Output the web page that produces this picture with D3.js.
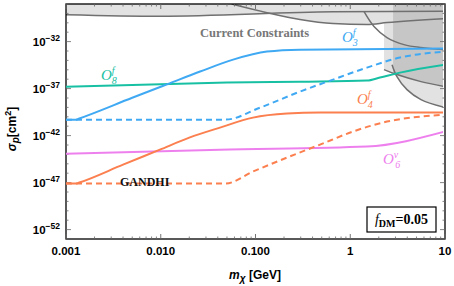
<!DOCTYPE html>
<html>
<head>
<meta charset="utf-8">
<script src="https://cdn.jsdelivr.net/npm/d3@7"></script>
<style>
  body { margin: 0; background: #fff; }
  svg { display: block; }
</style>
</head>
<body>
<svg id="chart" width="454" height="286"></svg>
<script>
// axis ticks
const massTicks = [0.001, 0.01, 0.1, 1, 10];
const massTickLabels = ['0.001', '0.010', '0.100', '1', '10'];
const sigmaTickExps = [-52, -47, -42, -37, -32];

// O3f (solid / dashed)
const o3SolidMass = [0.001, 0.00128, 0.00136, 0.005, 0.012, 0.026, 0.058, 0.132, 0.295, 10];
const o3SolidSigma = [5.0e-41, 5.0e-41, 6.2e-41, 1.05e-38, 3.2e-37, 6.5e-36, 1.2e-34, 8.7e-34, 1.4e-33, 1.8e-33];
const o3DashMass = [0.001, 0.048, 0.112, 0.295, 0.658, 1.5, 3.35, 10];
const o3DashSigma = [5.0e-41, 5.0e-41, 9.5e-40, 4.8e-38, 9.1e-37, 1.7e-35, 2.0e-34, 8.7e-34];

// O8f
const o8Mass = [0.001, 0.05, 0.295, 1.5, 2.06, 3.35, 10];
const o8Sigma = [1.6e-37, 4.4e-37, 5.5e-37, 7.1e-37, 1.5e-36, 5.0e-36, 3.5e-35];

// O4f (solid / dashed)
const o4SolidMass = [0.001, 0.00128, 0.00136, 0.004, 0.0098, 0.02, 0.0422, 0.0941, 0.215, 0.48, 10];
const o4SolidSigma = [7.8e-48, 7.8e-48, 9.5e-48, 8.1e-46, 3.2e-44, 6.0e-43, 7.1e-42, 8.2e-41, 2.2e-40, 2.8e-40, 2.8e-40];
const o4DashMass = [0.001, 0.048, 0.0941, 0.215, 0.48, 1.07, 2.44, 5.45, 10];
const o4DashSigma = [7.8e-48, 7.8e-48, 1.5e-46, 4.6e-45, 1.1e-43, 2.7e-42, 3.1e-41, 1.05e-40, 1.7e-40];

// O6v
const o6Mass = [0.001, 0.042, 1.5, 10];
const o6Sigma = [1.2e-44, 3.2e-44, 6.8e-44, 2.7e-42];

// current constraints
const topEdgeMass = [0.001, 0.0098, 0.658, 10];
const topEdgeSigma = [7.4e-30, 5.1e-30, 1.5e-29, 1.7e-29];
const lowEdgeMass = [0.056, 0.132, 0.295, 0.658, 1.5, 2.44, 10];
const lowEdgeSigma = [1e-28, 1.2e-29, 2.2e-30, 8.2e-31, 6.5e-31, 1.05e-30, 2.8e-30];
const curveAMass = [1.4, 1.78, 2.44, 3.69, 5.58, 10];
const curveASigma = [1.5e-29, 4.0e-31, 2.7e-32, 4.8e-33, 2.3e-33, 1.4e-33];
const curveBMass = [2.27, 3.11, 5.58, 10];
const curveBSigma = [1.05e-35, 3.1e-36, 5.5e-37, 1.6e-37];
const curveCMass = [2.76, 3.11, 3.97, 5.58, 10];
const curveCSigma = [3.5e-35, 1.9e-36, 7.8e-38, 6.8e-39, 9.5e-40];

const zip = (ms, ss) => ms.map((m, i) => [m, ss[i]]);

const svg = d3.select('#chart');
const margin = { top: 4, right: 9, bottom: 47, left: 66 };
const W = 454, H = 286;
const w = W - margin.left - margin.right;
const h = H - margin.top - margin.bottom;

const x = d3.scaleLog().domain([0.001, 10]).range([0, w]);
const y = d3.scaleLog().domain([1e-53, 1e-28]).range([h, 0]);

const g = svg.append('g').attr('transform', `translate(${margin.left},${margin.top})`);

g.append('clipPath').attr('id', 'clip')
  .append('rect').attr('x', -3).attr('y', 0).attr('width', w + 1).attr('height', h);

const line = d3.line().x(d => x(d[0])).y(d => y(d[1])).curve(d3.curveMonotoneX);
const lineNat = d3.line().x(d => x(d[0])).y(d => y(d[1])).curve(d3.curveCatmullRom.alpha(0.5));

const plot = g.append('g').attr('clip-path', 'url(#clip)');

// shaded exclusion regions
const light = '#e2e2e2', dark = '#c6c6c6', edge = '#707070';
plot.append('path')
  .attr('d', d3.area().x(d => x(d[0])).y0(0).y1(d => y(d[1])).curve(d3.curveMonotoneX)(zip(topEdgeMass, topEdgeSigma)))
  .attr('fill', light);
plot.append('path')
  .attr('d', d3.area().x(d => x(d[0])).y0(0).y1(d => y(d[1])).curve(d3.curveMonotoneX)(zip(lowEdgeMass, lowEdgeSigma)))
  .attr('fill', light);

const rightLight = [[2.27, 1e-28], [2.27, 1.05e-35]].concat(zip(curveCMass, curveCSigma).slice(1), [[10, 1e-28]]);
plot.append('path')
  .attr('d', d3.line().x(d => x(d[0])).y(d => y(d[1])).curve(d3.curveLinear)(rightLight) + 'Z')
  .attr('fill', light);
const rightDark = [[2.83, 1e-28], [2.83, 4.5e-36]].concat(zip(curveBMass, curveBSigma).slice(1), [[10, 1e-28]]);
plot.append('path')
  .attr('d', d3.line().x(d => x(d[0])).y(d => y(d[1])).curve(d3.curveLinear)(rightDark) + 'Z')
  .attr('fill', dark);

[[topEdgeMass, topEdgeSigma], [lowEdgeMass, lowEdgeSigma]].forEach(([ms, ss]) => {
  plot.append('path').attr('d', line(zip(ms, ss)))
    .attr('fill', 'none').attr('stroke', edge).attr('stroke-width', 1.5);
});
[[curveAMass, curveASigma], [curveBMass, curveBSigma], [curveCMass, curveCSigma]].forEach(([ms, ss]) => {
  plot.append('path').attr('d', lineNat(zip(ms, ss)))
    .attr('fill', 'none').attr('stroke', edge).attr('stroke-width', 1.5);
});

// frame
g.append('rect').attr('width', w).attr('height', h)
  .attr('fill', 'none').attr('stroke', '#000').attr('stroke-width', 1.3);

// ticks (inside, on all four sides)
const tickCol = '#666';
const xMinor = [];
for (let e = -3; e < 1; e++) for (let k = 2; k <= 9; k++) xMinor.push(k * Math.pow(10, e));
xMinor.forEach(v => {
  g.append('line').attr('x1', x(v)).attr('x2', x(v)).attr('y1', h).attr('y2', h - 2.5).attr('stroke', tickCol).attr('stroke-width', 0.8);
  g.append('line').attr('x1', x(v)).attr('x2', x(v)).attr('y1', 0).attr('y2', 2.5).attr('stroke', tickCol).attr('stroke-width', 0.8);
});
massTicks.forEach(v => {
  g.append('line').attr('x1', x(v)).attr('x2', x(v)).attr('y1', h).attr('y2', h - 5).attr('stroke', tickCol).attr('stroke-width', 0.9);
  g.append('line').attr('x1', x(v)).attr('x2', x(v)).attr('y1', 0).attr('y2', 5).attr('stroke', tickCol).attr('stroke-width', 0.9);
});
for (let e = -53; e <= -28; e++) {
  const major = sigmaTickExps.includes(e);
  const len = major ? 5 : 2.5;
  const yy = y(Math.pow(10, e));
  g.append('line').attr('x1', 0).attr('x2', len).attr('y1', yy).attr('y2', yy).attr('stroke', tickCol).attr('stroke-width', 0.8);
  g.append('line').attr('x1', w).attr('x2', w - len).attr('y1', yy).attr('y2', yy).attr('stroke', tickCol).attr('stroke-width', 0.8);
}

// tick labels
const sans = 'Liberation Sans, Arial, sans-serif';
const serif = 'Liberation Serif, Times New Roman, serif';
massTicks.forEach((v, i) => {
  g.append('text').attr('x', x(v)).attr('y', h + 16)
    .attr('text-anchor', 'middle').attr('font-family', sans).attr('font-weight', 'bold')
    .attr('font-size', 11.5).text(massTickLabels[i]);
});
sigmaTickExps.forEach(e => {
  const t = g.append('text').attr('x', -6).attr('y', y(Math.pow(10, e)) + 4)
    .attr('text-anchor', 'end').attr('font-family', sans).attr('font-weight', 'bold').attr('font-size', 11.5);
  t.append('tspan').text('10');
  t.append('tspan').attr('dy', -5).attr('font-size', 8.5).text('\u2212' + (-e));
});

// axis titles
const xt = svg.append('text').attr('x', 255).attr('y', 279).attr('text-anchor', 'middle')
  .attr('font-family', sans).attr('font-weight', 'bold').attr('font-size', 12);
xt.append('tspan').attr('font-style', 'italic').text('m');
xt.append('tspan').attr('font-style', 'italic').attr('dy', 3).attr('font-size', 10).text('\u03c7');
xt.append('tspan').attr('dy', -3).text(' [GeV]');

const yt = svg.append('text').attr('transform', 'translate(16,129) rotate(-90)').attr('text-anchor', 'middle')
  .attr('font-family', sans).attr('font-weight', 'bold').attr('font-size', 12);
yt.append('tspan').attr('font-style', 'italic').text('\u03c3');
yt.append('tspan').attr('font-style', 'italic').attr('dy', 3).attr('font-size', 10).text('p');
yt.append('tspan').attr('dy', -3).text('[cm');
yt.append('tspan').attr('dy', -5).attr('font-size', 9).text('2');
yt.append('tspan').attr('dy', 5).text(']');

// model curves
const blue = '#40a9f3', teal = '#17c0a3', orange = '#fb7f4f', pink = '#ee80ee';
const curves = [
  { ms: o8Mass, ss: o8Sigma, c: teal, dash: null },
  { ms: o6Mass, ss: o6Sigma, c: pink, dash: null },
  { ms: o3DashMass, ss: o3DashSigma, c: blue, dash: '6,4' },
  { ms: o3SolidMass, ss: o3SolidSigma, c: blue, dash: null },
  { ms: o4DashMass, ss: o4DashSigma, c: orange, dash: '6,4' },
  { ms: o4SolidMass, ss: o4SolidSigma, c: orange, dash: null }
];
const curveLayer = g.append('g').attr('clip-path', 'url(#clip)');
curves.forEach(cv => {
  curveLayer.append('path').attr('d', line(zip(cv.ms, cv.ss)))
    .attr('fill', 'none').attr('stroke', cv.c).attr('stroke-width', 2)
    .attr('stroke-dasharray', cv.dash);
});

// curve labels
function opLabel(px, py, col, sup, sub) {
  const t = svg.append('text').attr('x', px).attr('y', py).attr('fill', col)
    .attr('font-family', serif).attr('font-style', 'italic').attr('font-size', 15);
  t.append('tspan').text('O');
  t.append('tspan').attr('dy', -6).attr('font-size', 10).text(sup);
  t.append('tspan').attr('dx', -3).attr('dy', 10).attr('font-size', 10).text(sub);
}
opLabel(342, 42, blue, 'f', '3');
opLabel(101, 80, teal, 'f', '8');
opLabel(357, 104, orange, 'f', '4');
opLabel(383, 164, pink, 'v', '6');

svg.append('text').attr('x', 200).attr('y', 37).attr('fill', '#777')
  .attr('font-family', serif).attr('font-weight', 'bold').attr('font-size', 12.5)
  .text('Current Constraints');
svg.append('text').attr('x', 120).attr('y', 186).attr('fill', '#111')
  .attr('font-family', serif).attr('font-weight', 'bold').attr('font-size', 12)
  .text('GANDHI');

// f_DM box
svg.append('rect').attr('x', 367).attr('y', 207).attr('width', 69).attr('height', 25)
  .attr('fill', '#fff').attr('stroke', '#000').attr('stroke-width', 1.2);
const ft = svg.append('text').attr('x', 401.5).attr('y', 224).attr('text-anchor', 'middle')
  .attr('font-family', serif).attr('font-size', 14);
ft.append('tspan').attr('font-style', 'italic').text('f');
ft.append('tspan').attr('font-weight', 'bold').attr('font-size', 10).attr('dy', 3).text('DM');
ft.append('tspan').attr('font-weight', 'bold').attr('dy', -3).text('=0.05');
</script>
</body>
</html>
